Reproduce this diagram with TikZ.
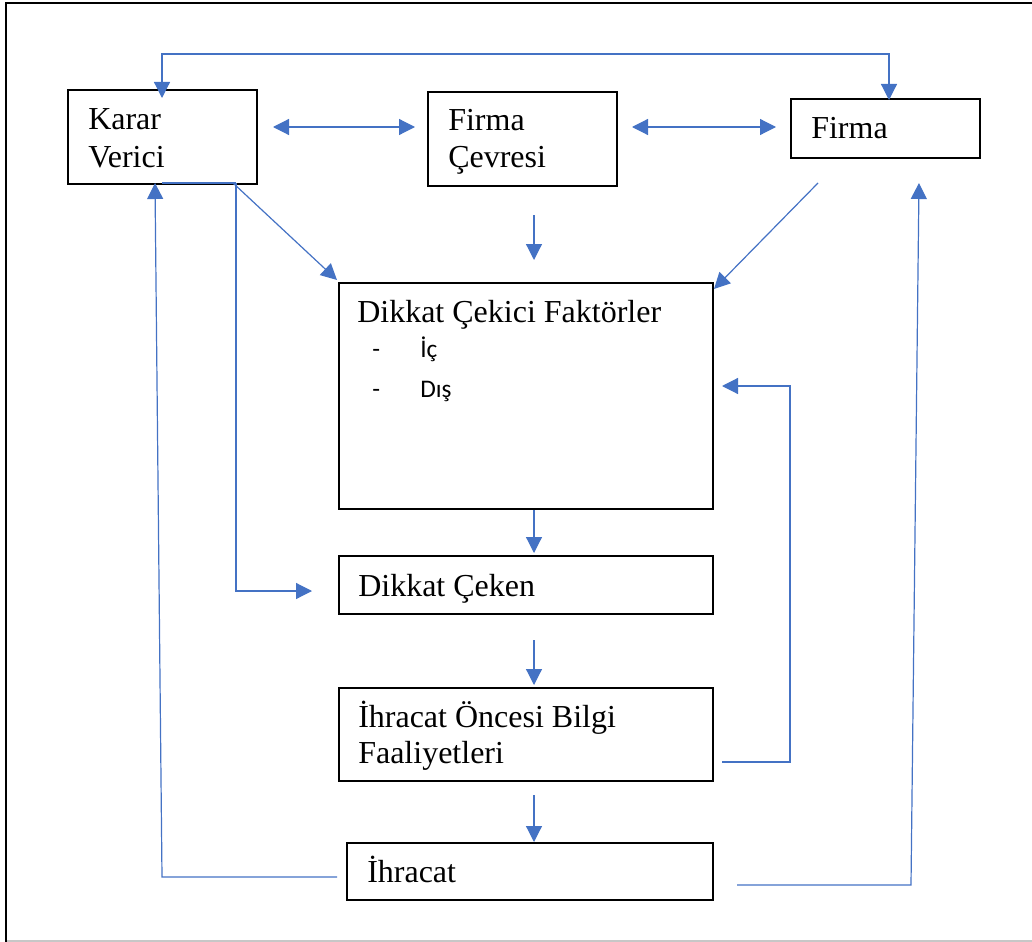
\documentclass[tikz,border=0pt]{standalone}
\usepackage{fontspec}
\setmainfont{Liberation Serif}
\newfontfamily\listfont{Carlito}
\usetikzlibrary{arrows.meta}
\definecolor{linkblue}{HTML}{4472C4}
\begin{document}
\begin{tikzpicture}[x=0.75pt,y=-0.75pt,
  fbox/.style n args={2}{draw=black, line width=1.6pt, anchor=north west,
    inner sep=0pt, minimum width=#1*0.75pt, minimum height=#2*0.75pt},
  txt/.style={anchor=base west, inner sep=0pt,
    font=\fontsize{24pt}{28pt}\selectfont},
  itm/.style={anchor=base west, inner sep=0pt,
    font=\listfont\fontsize{19pt}{22pt}\selectfont},
  link/.style={draw=linkblue, line width=0.9pt,
    -{Triangle[length=12pt,width=12pt]}},
  both/.style={draw=linkblue, line width=0.9pt,
    {Triangle[length=12pt,width=12pt]}-{Triangle[length=12pt,width=12pt]}},
  plain/.style={draw=linkblue, line width=0.9pt}]

\useasboundingbox (0,0) rectangle (1032,942);

% outer frame
\draw[line width=2pt, black] (6,942) -- (6,3) -- (1032,3);
\draw[line width=1pt, black!22] (7,941) -- (1032,941);

% boxes
\node[fbox={189}{94}]  (kv)  at (67,89)   {};
\node[fbox={189}{94}]  (fc)  at (427,91)  {};
\node[fbox={189}{59}]  (fi)  at (790,98)  {};
\node[fbox={374}{226}] (dcf) at (338,282) {};
\node[fbox={374}{58}]  (dc)  at (338,555) {};
\node[fbox={374}{93}]  (iob) at (338,687) {};
\node[fbox={366}{57}]  (ih)  at (346,842) {};

% labels
\node[txt] (kv1) at (88,129)   {Karar};
\node[txt] (kv2) at (88,167)   {Verici};
\node[txt] (fc1) at (448,131)  {Firma};
\node[txt] (fc2) at (448,167)  {Çevresi};
\node[txt] (fi1) at (811,138)  {Firma};
\node[txt] (dcf1) at (357,322) {Dikkat Çekici Faktörler};
\node[itm] (d1) at (372,357)   {-};
\node[itm] (i1) at (420,357)   {İç};
\node[itm] (d2) at (372,397)   {-};
\node[itm] (i2) at (420,397)   {Dış};
\node[txt] (dc1) at (358,596)  {Dikkat Çeken};
\node[txt] (iob1) at (358,727) {İhracat Öncesi Bilgi};
\node[txt] (iob2) at (358,763) {Faaliyetleri};
\node[txt] (ih1) at (367,882)  {İhracat};

% connector end points
\coordinate (kvIn)   at (162,98);
\coordinate (kvUp)   at (162,54);
\coordinate (fiUp)   at (889,54);
\coordinate (fiIn)   at (889,100);
\coordinate (kvR)    at (273,127);
\coordinate (fcL)    at (415,127);
\coordinate (fcR)    at (632,127);
\coordinate (fiL)    at (776,127);
\coordinate (fcOut)  at (534,215);
\coordinate (dcfIn)  at (534,260);
\coordinate (kvB1)   at (162,183);
\coordinate (kvB2)   at (236,183);
\coordinate (bend1)  at (236,591);
\coordinate (dcIn)   at (312,591);
\coordinate (kvDiag) at (233,183);
\coordinate (dcfNW)  at (337,280);
\coordinate (fiDiag) at (818,183);
\coordinate (dcfNE)  at (714,289);
\coordinate (dcfOut) at (534,510);
\coordinate (dcTop)  at (534,553);
\coordinate (dcOut)  at (534,640);
\coordinate (iobTop) at (534,685);
\coordinate (iobOut) at (534,795);
\coordinate (ihTop)  at (534,842);
\coordinate (iobR)   at (722,762);
\coordinate (rb1)    at (790,762);
\coordinate (rb2)    at (790,386);
\coordinate (dcfR)   at (722,386);
\coordinate (ihL)    at (337,877);
\coordinate (lb1)    at (162,877);
\coordinate (kvBot)  at (155,183);
\coordinate (ihR)    at (737,885);
\coordinate (rr1)    at (911,885);
\coordinate (fiBot)  at (919,183);

% connectors
\draw[both] (kvIn) -- (kvUp) -- (fiUp) -- (fiIn);
\draw[both] (kvR) -- (fcL);
\draw[both] (fcR) -- (fiL);
\draw[link] (fcOut) -- (dcfIn);
\draw[plain] (kvB1) -- (kvB2);
\draw[link] (kvB2) -- (bend1) -- (dcIn);
\draw[link] (kvDiag) -- (dcfNW);
\draw[link] (fiDiag) -- (dcfNE);
\draw[link] (dcfOut) -- (dcTop);
\draw[link] (dcOut) -- (iobTop);
\draw[link] (iobOut) -- (ihTop);
\draw[link] (iobR) -- (rb1) -- (rb2) -- (dcfR);
\draw[link] (ihL) -- (lb1) -- (kvBot);
\draw[link] (ihR) -- (rr1) -- (fiBot);
\end{tikzpicture}
\end{document}
